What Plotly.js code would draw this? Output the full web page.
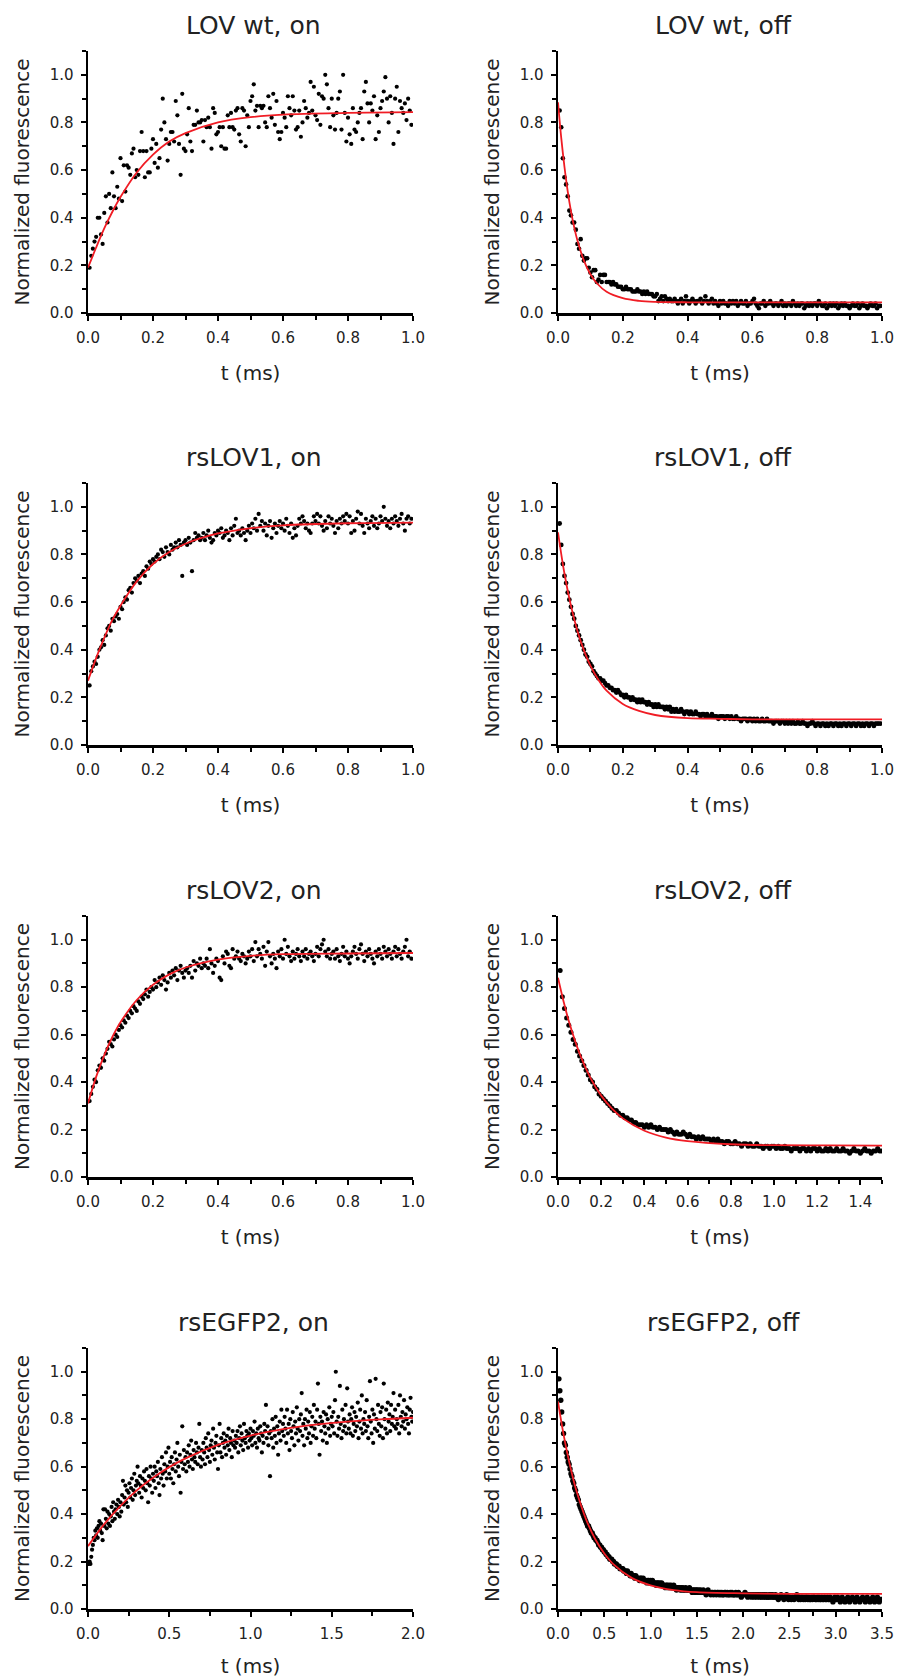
<!DOCTYPE html>
<html>
<head>
<meta charset="utf-8">
<script src="https://cdn.plot.ly/plotly-3.0.1.min.js"></script>
<style>html,body{margin:0;padding:0;background:#fff}#chart{width:899px;height:1678px}</style>
</head>
<body>
<div id="chart"></div>
<script>
// ---------- text ----------
const panelTitles = ["LOV wt, on", "LOV wt, off", "rsLOV1, on", "rsLOV1, off", "rsLOV2, on", "rsLOV2, off", "rsEGFP2, on", "rsEGFP2, off"];
const xAxisTitle = "t (ms)";
const yAxisTitle = "Normalized fluorescence";
const xMax = [1, 1, 1, 1, 1, 1.5, 2, 3.5];
const xMajor = [0.2, 0.2, 0.2, 0.2, 0.2, 0.2, 0.5, 0.5];
const xMinor = [0.1, 0.1, 0.1, 0.1, 0.1, 0.1, 0.25, 0.25];

// ---------- sample times (microseconds) ----------
const tA_us = [5,10,15,20,25,30,35,40,45,50,55,60,65,70,75,80,85,90,95,100,
105,110,115,120,125,130,135,140,145,150,155,160,165,170,175,180,185,190,195,200,
205,210,215,220,225,230,235,240,245,250,255,260,265,270,275,280,285,290,295,300,
305,310,315,320,325,330,335,340,345,350,355,360,365,370,375,380,385,390,395,400,
405,410,415,420,425,430,435,440,445,450,455,460,465,470,475,480,485,490,495,500,
505,510,515,520,525,530,535,540,545,550,555,560,565,570,575,580,585,590,595,600,
605,610,615,620,625,630,635,640,645,650,655,660,665,670,675,680,685,690,695,700,
705,710,715,720,725,730,735,740,745,750,755,760,765,770,775,780,785,790,795,800,
805,810,815,820,825,830,835,840,845,850,855,860,865,870,875,880,885,890,895,900,
905,910,915,920,925,930,935,940,945,950,955,960,965,970,975,980,985,990,995];
const tC_us = tA_us.concat([1000,1005,1010,1015,1020,1025,1030,1035,1040,1045,1050,1055,1060,1065,1070,1075,1080,1085,1090,1095,
1100,1105,1110,1115,1120,1125,1130,1135,1140,1145,1150,1155,1160,1165,1170,1175,1180,1185,1190,1195,
1200,1205,1210,1215,1220,1225,1230,1235,1240,1245,1250,1255,1260,1265,1270,1275,1280,1285,1290,1295,
1300,1305,1310,1315,1320,1325,1330,1335,1340,1345,1350,1355,1360,1365,1370,1375,1380,1385,1390,1395,
1400,1405,1410,1415,1420,1425,1430,1435,1440,1445,1450,1455,1460,1465,1470,1475,1480,1485,1490,1495,
1500,1505,1510,1515,1520,1525,1530,1535,1540,1545,1550,1555,1560,1565,1570,1575,1580,1585,1590,1595,
1600,1605,1610,1615,1620,1625,1630,1635,1640,1645,1650,1655,1660,1665,1670,1675,1680,1685,1690,1695,
1700,1705,1710,1715,1720,1725,1730,1735,1740,1745,1750,1755,1760,1765,1770,1775,1780,1785,1790,1795,
1800,1805,1810,1815,1820,1825,1830,1835,1840,1845,1850,1855,1860,1865,1870,1875,1880,1885,1890,1895,
1900,1905,1910,1915,1920,1925,1930,1935,1940,1945,1950,1955,1960,1965,1970,1975,1980,1985,1990,1995,2000]);
const tB_us = [10,20,30,40,50,60,70,80,90,100,110,120,130,140,150,160,170,180,190,200,
210,220,230,240,250,260,270,280,290,300,310,320,330,340,350,360,370,380,390,400,
410,420,430,440,450,460,470,480,490,500,510,520,530,540,550,560,570,580,590,600,
610,620,630,640,650,660,670,680,690,700,710,720,730,740,750,760,770,780,790,800,
810,820,830,840,850,860,870,880,890,900,910,920,930,940,950,960,970,980,990,1000,
1010,1020,1030,1040,1050,1060,1070,1080,1090,1100,1110,1120,1130,1140,1150,1160,1170,1180,1190,1200,
1210,1220,1230,1240,1250,1260,1270,1280,1290,1300,1310,1320,1330,1340,1350,1360,1370,1380,1390,1400,
1410,1420,1430,1440,1450,1460,1470,1480,1490,1500];
const tD_us = tB_us.concat([1510,1520,1530,1540,1550,1560,1570,1580,1590,1600,1610,1620,1630,1640,1650,1660,1670,1680,1690,1700,
1710,1720,1730,1740,1750,1760,1770,1780,1790,1800,1810,1820,1830,1840,1850,1860,1870,1880,1890,1900,
1910,1920,1930,1940,1950,1960,1970,1980,1990,2000,2010,2020,2030,2040,2050,2060,2070,2080,2090,2100,
2110,2120,2130,2140,2150,2160,2170,2180,2190,2200,2210,2220,2230,2240,2250,2260,2270,2280,2290,2300,
2310,2320,2330,2340,2350,2360,2370,2380,2390,2400,2410,2420,2430,2440,2450,2460,2470,2480,2490,2500,
2510,2520,2530,2540,2550,2560,2570,2580,2590,2600,2610,2620,2630,2640,2650,2660,2670,2680,2690,2700,
2710,2720,2730,2740,2750,2760,2770,2780,2790,2800,2810,2820,2830,2840,2850,2860,2870,2880,2890,2900,
2910,2920,2930,2940,2950,2960,2970,2980,2990,3000,3010,3020,3030,3040,3050,3060,3070,3080,3090,3100,
3110,3120,3130,3140,3150,3160,3170,3180,3190,3200,3210,3220,3230,3240,3250,3260,3270,3280,3290,3300,
3310,3320,3330,3340,3350,3360,3370,3380,3390,3400,3410,3420,3430,3440,3450,3460,3470,3480,3490,3500]);

// ---------- measured points ----------
const yLovWtOn = [0.19,0.24,0.27,0.30,0.32,0.40,0.40,0.33,0.29,0.42,
0.49,0.38,0.50,0.44,0.59,0.49,0.44,0.53,0.48,0.65,
0.47,0.62,0.51,0.62,0.61,0.58,0.67,0.69,0.57,0.60,
0.58,0.68,0.76,0.68,0.57,0.68,0.59,0.59,0.69,0.73,
0.63,0.71,0.61,0.65,0.77,0.90,0.80,0.73,0.64,0.71,
0.76,0.76,0.72,0.89,0.83,0.71,0.58,0.92,0.69,0.68,
0.75,0.86,0.72,0.68,0.79,0.79,0.85,0.80,0.80,0.81,
0.72,0.81,0.78,0.82,0.78,0.69,0.86,0.84,0.75,0.76,
0.78,0.70,0.78,0.69,0.69,0.83,0.78,0.84,0.78,0.77,
0.85,0.86,0.75,0.72,0.86,0.85,0.70,0.83,0.78,0.89,
0.91,0.96,0.85,0.87,0.78,0.87,0.86,0.87,0.80,0.78,
0.91,0.86,0.82,0.92,0.79,0.89,0.76,0.73,0.76,0.84,
0.82,0.78,0.91,0.86,0.83,0.91,0.85,0.77,0.78,0.85,
0.74,0.80,0.89,0.86,0.82,0.84,0.97,0.85,0.95,0.83,
0.81,0.92,0.79,0.91,0.90,1.00,0.96,0.86,0.78,0.90,
0.83,0.77,0.84,0.90,0.93,0.77,1.00,0.84,0.72,0.82,
0.75,0.71,0.86,0.77,0.76,0.80,0.84,0.86,0.73,0.93,
0.97,0.88,0.80,0.88,0.85,0.91,0.73,0.83,0.76,0.86,
0.89,0.93,0.99,0.90,0.80,0.91,0.84,0.71,0.90,0.95,
0.76,0.89,0.86,0.84,0.88,0.81,0.90,0.85,0.79];

const yLovWtOff = [0.85,0.78,0.65,0.57,0.54,0.49,0.43,0.41,0.38,0.38,
0.35,0.29,0.27,0.31,0.24,0.22,0.23,0.23,0.19,0.17,
0.15,0.18,0.18,0.13,0.14,0.16,0.13,0.16,0.16,0.13,
0.13,0.13,0.12,0.13,0.12,0.12,0.11,0.11,0.11,0.10,
0.10,0.11,0.10,0.10,0.10,0.09,0.09,0.09,0.10,0.09,
0.09,0.08,0.09,0.08,0.09,0.08,0.08,0.08,0.07,0.07,
0.08,0.05,0.06,0.07,0.05,0.07,0.06,0.05,0.06,0.05,
0.05,0.06,0.05,0.04,0.05,0.06,0.04,0.05,0.07,0.05,
0.04,0.05,0.06,0.05,0.04,0.05,0.05,0.06,0.04,0.05,
0.07,0.05,0.04,0.05,0.06,0.04,0.05,0.04,0.03,0.05,
0.04,0.05,0.04,0.04,0.03,0.05,0.04,0.05,0.04,0.05,
0.03,0.04,0.05,0.04,0.04,0.05,0.03,0.04,0.04,0.05,
0.06,0.04,0.03,0.02,0.04,0.04,0.05,0.03,0.04,0.04,
0.05,0.04,0.03,0.04,0.04,0.03,0.04,0.05,0.03,0.04,
0.03,0.04,0.04,0.03,0.05,0.04,0.03,0.04,0.03,0.04,
0.04,0.02,0.03,0.04,0.03,0.04,0.03,0.04,0.04,0.03,
0.05,0.04,0.03,0.03,0.04,0.02,0.03,0.04,0.03,0.04,
0.03,0.04,0.02,0.03,0.04,0.03,0.04,0.03,0.03,0.02,
0.03,0.04,0.03,0.03,0.04,0.02,0.03,0.04,0.03,0.03,
0.02,0.03,0.04,0.03,0.03,0.04,0.02,0.03,0.03];

const yRsLov1On = [0.25,0.31,0.33,0.35,0.34,0.37,0.40,0.41,0.44,0.42,
0.46,0.49,0.50,0.48,0.53,0.52,0.54,0.55,0.53,0.58,
0.57,0.60,0.62,0.61,0.65,0.66,0.64,0.68,0.70,0.69,
0.71,0.68,0.72,0.73,0.71,0.75,0.74,0.77,0.76,0.78,
0.77,0.79,0.80,0.78,0.82,0.81,0.79,0.83,0.81,0.80,
0.84,0.82,0.83,0.85,0.83,0.86,0.84,0.71,0.85,0.86,
0.84,0.87,0.85,0.73,0.86,0.89,0.87,0.88,0.86,0.87,
0.89,0.86,0.88,0.90,0.87,0.85,0.86,0.89,0.88,0.90,
0.89,0.91,0.87,0.88,0.90,0.89,0.86,0.91,0.88,0.92,
0.95,0.89,0.90,0.88,0.91,0.89,0.86,0.90,0.92,0.89,
0.93,0.91,0.95,0.90,0.97,0.92,0.94,0.90,0.93,0.88,
0.92,0.94,0.87,0.91,0.93,0.89,0.92,0.94,0.91,0.93,
0.90,0.95,0.92,0.89,0.93,0.87,0.91,0.88,0.92,0.95,
0.93,0.96,0.94,0.91,0.93,0.90,0.89,0.93,0.96,0.94,
0.97,0.93,0.96,0.92,0.90,0.94,0.91,0.96,0.93,0.95,
0.92,0.89,0.94,0.91,0.95,0.93,0.96,0.94,0.97,0.93,
0.96,0.89,0.94,0.90,0.95,0.98,0.93,0.97,0.92,0.89,
0.95,0.93,0.91,0.94,0.96,0.92,0.95,0.91,0.93,0.96,
0.94,1.00,0.95,0.92,0.94,0.91,0.95,0.93,0.96,0.94,
0.92,0.95,0.97,0.93,0.90,0.95,0.96,0.93,0.95];

const yRsLov1Off = [0.93,0.84,0.76,0.71,0.68,0.64,0.61,0.58,0.55,0.53,
0.50,0.48,0.46,0.44,0.42,0.40,0.38,0.37,0.35,0.34,
0.33,0.31,0.30,0.29,0.28,0.28,0.27,0.27,0.26,0.25,
0.25,0.24,0.24,0.23,0.23,0.22,0.23,0.22,0.21,0.21,
0.20,0.21,0.20,0.20,0.19,0.20,0.19,0.19,0.18,0.19,
0.18,0.19,0.18,0.18,0.17,0.18,0.17,0.17,0.16,0.17,
0.16,0.17,0.16,0.16,0.16,0.15,0.16,0.15,0.16,0.14,
0.15,0.14,0.15,0.14,0.14,0.15,0.14,0.13,0.14,0.14,
0.13,0.14,0.13,0.13,0.14,0.13,0.13,0.12,0.13,0.13,
0.12,0.13,0.12,0.12,0.13,0.12,0.12,0.12,0.11,0.12,
0.12,0.12,0.11,0.12,0.12,0.11,0.12,0.11,0.11,0.12,
0.11,0.11,0.10,0.11,0.11,0.11,0.10,0.11,0.11,0.10,
0.11,0.10,0.11,0.10,0.10,0.11,0.10,0.10,0.11,0.10,
0.10,0.10,0.09,0.10,0.10,0.10,0.09,0.10,0.10,0.09,
0.10,0.09,0.10,0.09,0.10,0.09,0.09,0.10,0.09,0.09,
0.10,0.09,0.09,0.08,0.09,0.09,0.10,0.09,0.08,0.09,
0.09,0.08,0.09,0.09,0.08,0.09,0.08,0.09,0.09,0.08,
0.09,0.09,0.08,0.09,0.08,0.09,0.09,0.08,0.09,0.09,
0.08,0.09,0.09,0.08,0.09,0.09,0.08,0.09,0.08,0.09,
0.09,0.08,0.09,0.09,0.08,0.09,0.09,0.09,0.09];

const yRsLov2On = [0.32,0.35,0.38,0.41,0.40,0.45,0.47,0.46,0.50,0.49,
0.52,0.54,0.57,0.56,0.55,0.58,0.60,0.59,0.62,0.64,
0.63,0.66,0.65,0.68,0.67,0.70,0.69,0.72,0.71,0.70,
0.74,0.73,0.76,0.75,0.77,0.79,0.76,0.78,0.80,0.79,
0.83,0.80,0.82,0.84,0.81,0.85,0.83,0.79,0.82,0.86,
0.84,0.87,0.85,0.88,0.83,0.87,0.89,0.86,0.84,0.87,
0.88,0.86,0.89,0.84,0.91,0.87,0.90,0.89,0.92,0.88,
0.90,0.89,0.92,0.88,0.96,0.90,0.86,0.89,0.92,0.91,
0.84,0.83,0.93,0.90,0.95,0.94,0.89,0.88,0.96,0.92,
0.93,0.95,0.92,0.91,0.94,0.93,0.90,0.92,0.95,0.93,
0.96,0.91,0.99,0.93,0.96,0.94,0.92,0.97,0.89,0.95,
0.99,0.93,0.90,0.94,0.92,0.88,0.95,0.93,0.96,0.92,
1.00,0.94,0.97,0.93,0.91,0.95,0.92,0.94,0.96,0.93,
0.91,0.95,0.93,0.96,0.92,0.94,0.95,0.93,0.91,0.94,
0.97,0.93,0.96,0.98,1.00,0.95,0.93,0.96,0.92,0.94,
0.95,0.92,0.96,0.93,0.91,0.94,0.97,0.93,0.95,0.92,
0.90,0.93,0.95,0.97,0.94,0.92,0.96,0.98,0.94,0.91,
0.95,0.93,0.96,0.94,0.92,0.90,0.95,0.93,0.96,0.94,
0.92,0.97,0.95,0.93,0.96,0.94,0.92,0.95,0.97,0.93,
0.96,0.94,0.92,0.95,0.97,1.00,0.93,0.95,0.92];

const yRsLov2Off = [0.87,0.76,0.71,0.67,0.64,0.61,0.58,0.56,0.53,0.51,
0.49,0.47,0.45,0.43,0.41,0.40,0.38,0.37,0.35,0.34,
0.33,0.32,0.31,0.30,0.29,0.28,0.28,0.27,0.26,0.26,
0.25,0.25,0.24,0.24,0.23,0.23,0.22,0.22,0.22,0.21,
0.22,0.21,0.22,0.21,0.21,0.20,0.21,0.20,0.20,0.20,
0.19,0.20,0.19,0.18,0.19,0.18,0.18,0.19,0.18,0.17,
0.18,0.17,0.17,0.16,0.17,0.16,0.17,0.16,0.16,0.16,
0.15,0.16,0.15,0.16,0.15,0.15,0.14,0.15,0.15,0.14,
0.14,0.15,0.14,0.14,0.13,0.14,0.14,0.13,0.14,0.13,
0.13,0.14,0.13,0.13,0.12,0.13,0.13,0.12,0.13,0.13,
0.12,0.13,0.12,0.12,0.13,0.12,0.12,0.11,0.12,0.12,
0.12,0.11,0.12,0.12,0.11,0.12,0.11,0.12,0.12,0.11,
0.12,0.11,0.11,0.12,0.11,0.12,0.11,0.11,0.12,0.11,
0.11,0.12,0.11,0.11,0.10,0.11,0.12,0.11,0.11,0.10,
0.11,0.12,0.11,0.11,0.10,0.11,0.11,0.12,0.11,0.11];

const yRsEgfp2On = [0.19,0.20,0.19,0.22,0.25,0.27,0.30,0.29,0.33,0.31,0.34,0.30,0.35,0.37,0.33,0.36,0.32,0.29,0.42,0.35,
0.42,0.38,0.34,0.41,0.36,0.40,0.35,0.39,0.43,0.37,0.45,0.41,0.38,0.42,0.44,0.40,0.46,0.43,0.39,0.45,
0.41,0.48,0.54,0.44,0.47,0.52,0.45,0.50,0.43,0.49,0.53,0.47,0.51,0.55,0.46,0.50,0.57,0.48,0.52,0.54,
0.60,0.53,0.49,0.56,0.52,0.47,0.55,0.51,0.58,0.54,0.50,0.59,0.53,0.45,0.56,0.52,0.60,0.55,0.49,0.57,
0.54,0.60,0.51,0.58,0.56,0.62,0.53,0.48,0.59,0.55,0.64,0.57,0.52,0.61,0.58,0.66,0.55,0.60,0.68,0.57,
0.62,0.55,0.64,0.59,0.53,0.61,0.66,0.58,0.63,0.70,0.60,0.56,0.65,0.49,0.62,0.77,0.59,0.67,0.61,0.64,
0.58,0.66,0.62,0.69,0.60,0.65,0.71,0.63,0.59,0.67,0.64,0.62,0.70,0.66,0.61,0.68,0.78,0.64,0.60,0.67,
0.63,0.70,0.66,0.61,0.72,0.68,0.64,0.74,0.67,0.62,0.69,0.71,0.65,0.76,0.68,0.63,0.70,0.73,0.66,0.59,
0.69,0.78,0.66,0.72,0.64,0.70,0.74,0.68,0.71,0.65,0.73,0.69,0.76,0.67,0.72,0.70,0.64,0.75,0.69,0.71,
0.68,0.73,0.70,0.75,0.66,0.72,0.77,0.69,0.74,0.71,0.67,0.78,0.72,0.70,0.75,0.73,0.68,0.74,0.71,0.76,
0.72,0.69,0.75,0.73,0.79,0.70,0.74,0.68,0.76,0.72,0.71,0.77,0.74,0.66,0.73,0.70,0.78,0.75,0.86,0.72,
0.77,0.69,0.74,0.56,0.75,0.72,0.80,0.68,0.76,0.73,0.81,0.70,0.77,0.65,0.74,0.79,0.71,0.84,0.75,0.78,
0.73,0.81,0.76,0.70,0.84,0.74,0.78,0.67,0.80,0.75,0.72,0.83,0.77,0.69,0.79,0.74,0.85,0.76,0.71,0.80,
0.75,0.82,0.91,0.73,0.78,0.69,0.80,0.76,0.84,0.72,0.79,0.74,0.83,0.70,0.77,0.81,0.73,0.86,0.76,0.79,
0.72,0.84,0.95,0.78,0.65,0.81,0.75,0.79,0.71,0.83,0.77,0.74,0.82,0.70,0.80,0.76,0.85,0.73,0.78,0.81,
0.77,0.83,0.74,0.88,1.00,0.79,0.73,0.81,0.76,0.94,0.78,0.72,0.84,0.75,0.80,0.77,0.86,0.74,0.93,0.79,
0.76,0.82,0.74,0.80,0.85,0.73,0.78,0.83,0.75,0.81,0.77,0.87,0.72,0.79,0.84,0.76,0.90,0.74,0.80,0.78,
0.83,0.75,0.88,0.77,0.72,0.81,0.96,0.79,0.74,0.84,0.70,0.82,0.76,0.97,0.80,0.75,0.86,0.78,0.73,0.83,
0.77,0.85,0.72,0.95,0.80,0.76,0.84,0.74,0.87,0.79,0.82,0.75,0.86,0.78,0.81,0.91,0.77,0.84,0.76,0.80,
0.78,0.86,0.74,0.90,0.81,0.77,0.83,0.79,0.88,0.76,0.82,0.80,0.85,0.78,0.74,0.84,0.89,0.81,0.79,0.83];

const yRsEgfp2Off = [0.97,0.92,0.88,0.83,0.78,0.74,0.70,0.69,0.66,0.64,
0.62,0.61,0.59,0.57,0.56,0.54,0.53,0.51,0.50,0.48,
0.47,0.46,0.44,0.43,0.42,0.41,0.40,0.39,0.38,0.37,
0.36,0.35,0.35,0.34,0.33,0.32,0.32,0.31,0.30,0.30,
0.29,0.29,0.28,0.27,0.27,0.26,0.26,0.25,0.25,0.24,
0.24,0.23,0.23,0.22,0.22,0.21,0.21,0.21,0.20,0.20,
0.19,0.19,0.19,0.18,0.18,0.18,0.17,0.17,0.17,0.17,
0.16,0.16,0.16,0.15,0.16,0.15,0.15,0.14,0.15,0.14,
0.14,0.14,0.13,0.14,0.13,0.13,0.13,0.12,0.13,0.13,
0.12,0.13,0.12,0.12,0.12,0.11,0.12,0.12,0.11,0.12,
0.11,0.12,0.11,0.11,0.11,0.10,0.11,0.11,0.10,0.11,
0.10,0.11,0.10,0.10,0.10,0.09,0.10,0.10,0.09,0.10,
0.09,0.10,0.09,0.09,0.10,0.09,0.09,0.08,0.09,0.09,
0.09,0.08,0.09,0.08,0.09,0.08,0.08,0.09,0.08,0.08,
0.08,0.09,0.08,0.08,0.07,0.08,0.08,0.07,0.08,0.08,
0.07,0.08,0.07,0.08,0.07,0.07,0.08,0.07,0.07,0.06,
0.07,0.08,0.07,0.07,0.06,0.07,0.07,0.06,0.07,0.07,
0.06,0.07,0.07,0.06,0.07,0.06,0.07,0.06,0.06,0.07,
0.07,0.06,0.07,0.06,0.06,0.07,0.06,0.07,0.06,0.06,
0.06,0.07,0.06,0.06,0.07,0.06,0.06,0.05,0.06,0.06,
0.06,0.07,0.06,0.06,0.05,0.06,0.06,0.06,0.05,0.06,
0.06,0.05,0.06,0.06,0.05,0.06,0.06,0.05,0.06,0.05,
0.06,0.05,0.06,0.05,0.06,0.05,0.05,0.06,0.05,0.06,
0.05,0.06,0.05,0.05,0.06,0.05,0.05,0.04,0.05,0.05,
0.06,0.05,0.05,0.04,0.05,0.05,0.06,0.05,0.04,0.05,
0.05,0.04,0.05,0.05,0.04,0.05,0.05,0.06,0.05,0.04,
0.05,0.04,0.05,0.05,0.04,0.05,0.04,0.05,0.05,0.04,
0.05,0.04,0.04,0.05,0.04,0.05,0.05,0.04,0.04,0.05,
0.04,0.05,0.04,0.04,0.05,0.04,0.04,0.05,0.04,0.04,
0.05,0.04,0.04,0.05,0.04,0.04,0.03,0.04,0.05,0.04,
0.04,0.05,0.04,0.04,0.03,0.04,0.05,0.04,0.04,0.03,
0.04,0.04,0.05,0.04,0.03,0.04,0.04,0.05,0.04,0.04,
0.03,0.04,0.05,0.04,0.04,0.03,0.04,0.04,0.05,0.04,
0.04,0.03,0.04,0.05,0.04,0.04,0.03,0.04,0.04,0.05,
0.04,0.03,0.04,0.04,0.05,0.04,0.03,0.04,0.04,0.04];

// ---------- fitted curves ----------
const fitT_LovWtOn = [0,0.025,0.05,0.075,0.1,0.15,0.2,0.25,0.3,0.4,0.5,0.6,0.8,1.0];
const fitY_LovWtOn = [0.19,0.275,0.355,0.425,0.487,0.59,0.665,0.72,0.755,0.80,0.822,0.833,0.84,0.843];
const fitT_LovWtOff = [0,0.01,0.02,0.03,0.04,0.05,0.06,0.08,0.10,0.12,0.15,0.20,0.25,0.30,0.40,0.60,0.80,1.0];
const fitY_LovWtOff = [0.885,0.735,0.613,0.511,0.428,0.36,0.304,0.22,0.163,0.125,0.089,0.062,0.051,0.047,0.045,0.045,0.045,0.045];
const fitT_RsLov1On = [0,0.025,0.05,0.075,0.1,0.15,0.2,0.25,0.3,0.4,0.5,0.6,0.8,1.0];
const fitY_RsLov1On = [0.27,0.365,0.45,0.525,0.585,0.687,0.76,0.81,0.845,0.888,0.91,0.922,0.931,0.934];
const fitT_RsLov1Off = [0,0.02,0.04,0.06,0.08,0.1,0.125,0.15,0.2,0.25,0.3,0.4,0.5,0.6,0.8,1.0];
const fitY_RsLov1Off = [0.893,0.719,0.584,0.479,0.397,0.333,0.273,0.228,0.172,0.143,0.126,0.113,0.110,0.108,0.108,0.108];
const fitT_RsLov2On = [0,0.025,0.05,0.075,0.1,0.15,0.2,0.25,0.3,0.4,0.5,0.6,0.8,1.0];
const fitY_RsLov2On = [0.31,0.422,0.514,0.590,0.652,0.746,0.81,0.854,0.883,0.916,0.932,0.939,0.942,0.944];
const fitT_RsLov2Off = [0,0.025,0.05,0.1,0.15,0.2,0.25,0.3,0.4,0.5,0.6,0.8,1.0,1.25,1.5];
const fitY_RsLov2Off = [0.84,0.743,0.657,0.52,0.418,0.343,0.288,0.247,0.195,0.166,0.151,0.138,0.134,0.133,0.132];
const fitT_RsEgfp2On = [0,0.1,0.2,0.3,0.4,0.5,0.6,0.8,1.0,1.2,1.4,1.6,1.8,2.0];
const fitY_RsEgfp2On = [0.265,0.358,0.435,0.50,0.553,0.598,0.635,0.692,0.731,0.758,0.777,0.79,0.799,0.806];
const fitT_RsEgfp2Off = [0,0.05,0.1,0.15,0.2,0.3,0.4,0.5,0.6,0.8,1.0,1.25,1.5,2.0,2.5,3.0,3.5];
const fitY_RsEgfp2Off = [0.874,0.757,0.657,0.571,0.497,0.381,0.296,0.234,0.188,0.130,0.100,0.080,0.071,0.066,0.064,0.064,0.064];

// ---------- assemble ----------
const panels = [
  {t: tA_us, y: yLovWtOn,   ft: fitT_LovWtOn,   fy: fitY_LovWtOn,   ms: 4.2},
  {t: tA_us, y: yLovWtOff,  ft: fitT_LovWtOff,  fy: fitY_LovWtOff,  ms: 4.6},
  {t: tA_us, y: yRsLov1On,  ft: fitT_RsLov1On,  fy: fitY_RsLov1On,  ms: 4.2},
  {t: tA_us, y: yRsLov1Off, ft: fitT_RsLov1Off, fy: fitY_RsLov1Off, ms: 4.8},
  {t: tA_us, y: yRsLov2On,  ft: fitT_RsLov2On,  fy: fitY_RsLov2On,  ms: 4.2},
  {t: tB_us, y: yRsLov2Off, ft: fitT_RsLov2Off, fy: fitY_RsLov2Off, ms: 5.0},
  {t: tC_us, y: yRsEgfp2On, ft: fitT_RsEgfp2On, fy: fitY_RsEgfp2On, ms: 4.2},
  {t: tD_us, y: yRsEgfp2Off,ft: fitT_RsEgfp2Off,fy: fitY_RsEgfp2Off,ms: 5.4}
];

const FONT = 'DejaVu Sans, Liberation Sans, Arial, sans-serif';
const W = 899, H = 1678;
const colX = [[88, 413], [558, 882]];
const rowY = [[51, 313], [483, 745], [916, 1177], [1348, 1609]];

const traces = [];
const layout = {
  width: W, height: H,
  margin: {l: 0, r: 0, t: 0, b: 0},
  paper_bgcolor: '#fff', plot_bgcolor: 'rgba(0,0,0,0)',
  showlegend: false,
  font: {family: FONT, color: '#222'},
  annotations: []
};

const tickCommon = {
  showline: true, linecolor: '#000', linewidth: 2.5,
  showgrid: false, zeroline: false,
  ticks: 'outside', ticklen: 5, tickwidth: 2, tickcolor: '#000',
  tickfont: {family: FONT, size: 15, color: '#222'},
  tickformat: '.1f', fixedrange: true
};

panels.forEach((p, i) => {
  const r = Math.floor(i / 2), c = i % 2, n = i + 1;
  const xa = 'x' + (n > 1 ? n : ''), ya = 'y' + (n > 1 ? n : '');
  const xk = 'xaxis' + (n > 1 ? n : ''), yk = 'yaxis' + (n > 1 ? n : '');
  traces.push({
    type: 'scatter', mode: 'markers', xaxis: xa, yaxis: ya,
    x: p.t.map(v => v / 1000), y: p.y,
    marker: {color: '#000', size: p.ms, line: {width: 0}},
    hoverinfo: 'skip'
  });
  traces.push({
    type: 'scatter', mode: 'lines', xaxis: xa, yaxis: ya,
    x: p.ft, y: p.fy,
    line: {color: 'rgb(240,28,36)', width: 1.8, shape: 'spline', smoothing: 1},
    hoverinfo: 'skip'
  });
  layout[xk] = Object.assign({}, tickCommon, {
    domain: [colX[c][0] / W, colX[c][1] / W],
    anchor: ya, range: [0, xMax[i]], tick0: 0, dtick: xMajor[i],
    ticklabelstandoff: 4,
    minor: {tick0: 0, dtick: xMinor[i], ticks: 'outside', ticklen: 4, tickwidth: 2, tickcolor: '#000', showgrid: false},
    title: {text: xAxisTitle, font: {family: FONT, size: 20, color: '#222'}, standoff: 21}
  });
  layout[yk] = Object.assign({}, tickCommon, {
    domain: [1 - rowY[r][1] / H, 1 - rowY[r][0] / H],
    anchor: xa, range: [0, 1.1], tick0: 0, dtick: 0.2,
    ticklabelstandoff: 4,
    minor: {tick0: 0, dtick: 0.1, ticks: 'outside', ticklen: 4, tickwidth: 2, tickcolor: '#000', showgrid: false},
    title: {text: yAxisTitle, font: {family: FONT, size: 20, color: '#222'}, standoff: 15}
  });
  layout.annotations.push({
    text: panelTitles[i], xref: 'paper', yref: 'paper',
    x: ((colX[c][0] + colX[c][1]) / 2 + 3) / W,
    y: 1 - (rowY[r][0] - 26) / H,
    xanchor: 'center', yanchor: 'middle', showarrow: false,
    font: {family: FONT, size: 25, color: '#222'}
  });
});

Plotly.newPlot('chart', traces, layout, {staticPlot: true, displayModeBar: false});
</script>
</body>
</html>
